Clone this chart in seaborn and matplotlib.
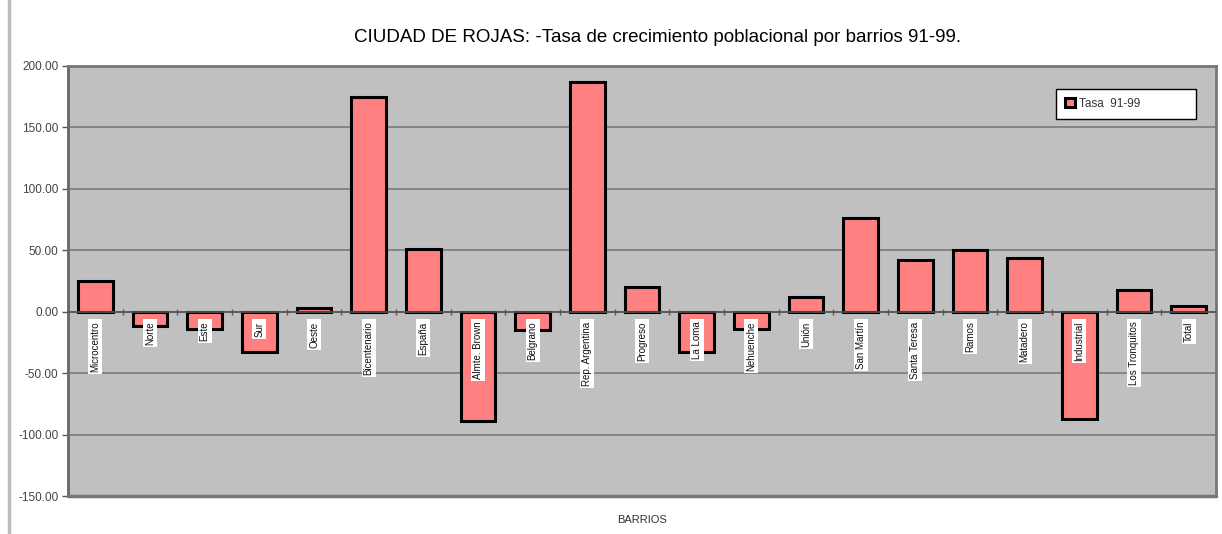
import matplotlib
matplotlib.use("Agg")
import matplotlib.pyplot as plt
import seaborn as sns
import pandas as pd
from matplotlib.ticker import FixedLocator, FuncFormatter
from matplotlib.lines import Line2D

barrios = ["Microcentro", "Norte", "Este", "Sur", "Oeste", "Bicentenario", "España",
           "Almte. Brown", "Belgrano", "Rep. Argentina", "Progreso", "La Loma",
           "Nehuenche", "Unión", "San Martín", "Santa Teresa", "Ramos", "Matadero",
           "Industrial", "Los Tronquitos", "Total"]
tasa = [25, -12, -14, -33, 3, 175, 51, -89, -15, 187, 20, -33, -14, 12, 76, 42, 50, 44,
        -87, 18, 5]
y_ticks = [-150, -100, -50, 0, 50, 100, 150, 200]
title = "CIUDAD DE ROJAS: -Tasa de crecimiento poblacional por barrios 91-99."
series_label = "Tasa  91-99"
x_label = "BARRIOS"

df = pd.DataFrame({"barrio": barrios, "tasa": tasa})

sns.set_theme(style="white")
plt.rcParams["font.family"] = ["Liberation Sans", "DejaVu Sans"]

fig = plt.figure(figsize=(12.22, 5.34), dpi=100)
fig.patch.set_facecolor("white")
ax = fig.add_axes([68 / 1222, 1 - 496 / 534, (1216 - 68) / 1222, 430 / 534])
ax.set_facecolor("#C0C0C0")

sns.barplot(data=df, x="barrio", y="tasa", color="#FF8080", saturation=1,
            edgecolor="black", linewidth=2.2, width=0.63, ax=ax, label=series_label,
            zorder=3)

ax.set_ylim(-150, 200)
ax.set_xlim(-0.5, len(barrios) - 0.5)
ax.yaxis.set_major_locator(FixedLocator(y_ticks))
ax.yaxis.set_major_formatter(FuncFormatter(lambda v, p: f"{v:.2f}"))
ax.grid(axis="y", color="#7a7a7a", linewidth=1.2)
ax.set_axisbelow(True)
ax.tick_params(axis="y", length=4, width=1, color="#555555", labelsize=8.5,
               labelcolor="#444444", pad=3, left=True)

# x axis at zero
ax.spines["bottom"].set_position(("data", 0))
ax.spines["bottom"].set_color("#555555")
ax.spines["bottom"].set_linewidth(1.2)
ax.spines["bottom"].set_zorder(4)
for s in ["left", "top", "right"]:
    ax.spines[s].set_color("#777777")
    ax.spines[s].set_linewidth(2)
ax.spines["left"].set_color("#666666")
ax.axhline(-150, color="#777777", linewidth=2.5, zorder=5, clip_on=False)

ax.xaxis.set_minor_locator(FixedLocator([i + 0.5 for i in range(len(barrios) - 1)]))
ax.tick_params(axis="x", which="minor", length=4, width=1, color="#555555",
               direction="inout", bottom=True)
ax.tick_params(axis="x", which="major", length=0, pad=7, labelsize=7,
               labelcolor="#111111")
for lbl in ax.get_xticklabels():
    lbl.set_rotation(90)
    lbl.set_va("top")
    lbl.set_ha("center")
    lbl.set_bbox(dict(facecolor="white", edgecolor="none", pad=1.5))
ax.xaxis.set_zorder(10)

ax.set_xlabel(x_label, fontsize=8, color="#333333")
ax.xaxis.set_label_coords(0.5, -0.045)
ax.set_ylabel("")

leg = ax.legend(loc="center", bbox_to_anchor=(0.861, 0.879, 0.122, 0.065),
                mode="expand", fancybox=False, framealpha=1, edgecolor="black",
                fontsize=8.5, handlelength=0.8, handleheight=0.8, borderpad=0.75,
                handletextpad=0.4, borderaxespad=0)
leg.set_zorder(20)
leg._legend_box.align = "center"
for t in leg.get_texts():
    t.set_color("#333333")

fig.text(0.538, 1 - 37 / 534, title, ha="center", va="center", fontsize=13.5,
         color="black")

fig.add_artist(Line2D([9 / 1222, 9 / 1222], [0, 1], color="#BBBBBB", linewidth=2.5))

fig.savefig("out.png", dpi=100)
